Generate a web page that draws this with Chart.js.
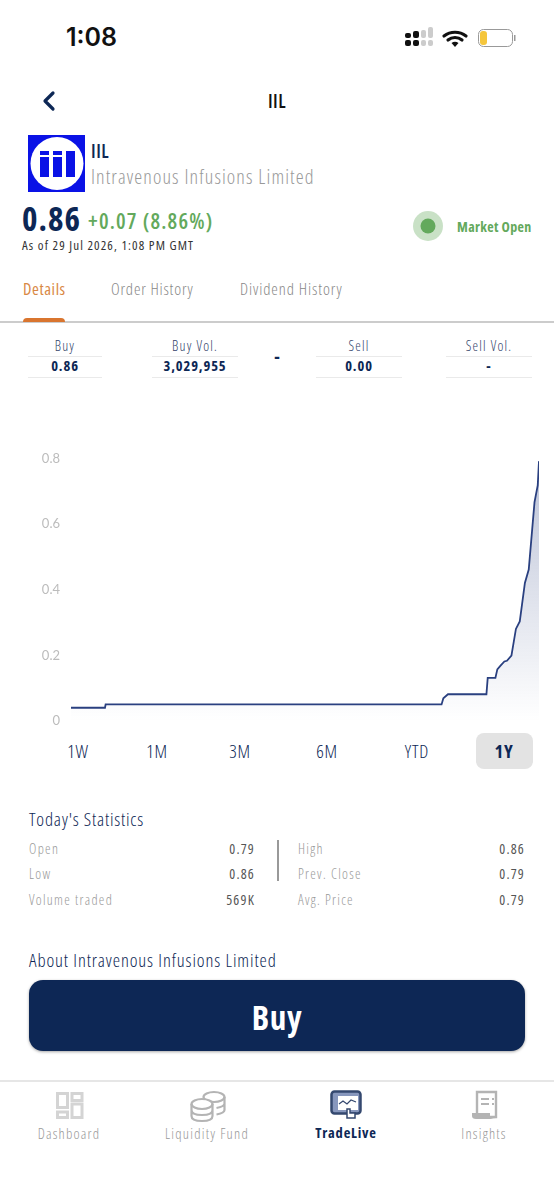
<!DOCTYPE html>
<html>
<head>
<meta charset="utf-8">
<title>IIL</title>
<script src="https://cdn.jsdelivr.net/npm/chart.js@4"></script>
<style>
  html, body { margin: 0; padding: 0; background: #fff; }
  body { width: 554px; height: 1199px; position: relative; overflow: hidden; font-family: "Open Sans", "Lato", sans-serif; font-stretch: 75%; color: #0d2755; }
  .t { position: absolute; white-space: nowrap; transform: translateY(-50%); line-height: 1; }
  .c { transform: translate(-50%, -50%); }
  .r { transform: translate(-100%, -50%); }
  .rule { position: absolute; height: 1px; background: #eaeaea; }
  svg { position: absolute; overflow: visible; }
  #chartBox { position: absolute; left: 0; top: 440px; width: 554px; height: 292px; }
  #pill { position: absolute; left: 476px; top: 733px; width: 57px; height: 36px; background: #e3e3e3; border-radius: 8px; }
  #buy { position: absolute; left: 29px; top: 980px; width: 496px; height: 71px; background: #0d2755; border-radius: 14px; box-shadow: 0 1px 3px rgba(0,0,0,.35); }
</style>
</head>
<body>

<div class="t" style="left:66px;top:37px;font:600 25px Inter;color:#111">1:08</div>
<svg style="left:405px;top:27px" width="115" height="22">
  <g fill="#111"><rect x="0" y="6" width="6" height="5" rx="2"/><rect x="0" y="13" width="6" height="6" rx="2"/><rect x="8" y="4" width="6" height="7" rx="2"/><rect x="8" y="13" width="6" height="6" rx="2"/></g>
  <g fill="#ccc"><rect x="16" y="3" width="5" height="8" rx="2"/><rect x="16" y="13" width="5" height="6" rx="2"/><rect x="23" y="0" width="5" height="11" rx="2"/><rect x="23" y="13" width="5" height="6" rx="2"/></g>
  <path d="M39 9 a18 18 0 0 1 22 0 M43 13 a11 11 0 0 1 14 0" fill="none" stroke="#111" stroke-width="3.2" stroke-linecap="round"/>
  <path d="M46.5 16 a6 6 0 0 1 7 0 L50 20z" fill="#111"/>
  <rect x="73.5" y="2.5" width="34" height="17" rx="5" fill="none" stroke="#999" stroke-width="1"/>
  <rect x="75" y="4" width="7" height="14" rx="3" fill="#f5c63c"/>
  <rect x="109" y="8" width="1.5" height="6" fill="#999"/>
</svg>

<svg style="left:42px;top:91px" width="13" height="20"><path d="M11 2 L3 10 L11 18" fill="none" stroke="#0d2755" stroke-width="3.2" stroke-linecap="round" stroke-linejoin="round"/></svg>
<div class="t c" style="left:277px;top:101px;font-size:19px;font-weight:600;letter-spacing:.5px;color:#111">IIL</div>

<svg style="left:28px;top:135px" width="57" height="57">
  <rect width="57" height="57" fill="#0a12e6"/>
  <circle cx="29" cy="28.5" r="26.5" fill="#fff"/>
  <g fill="#0a12e6"><rect x="12" y="22" width="9" height="20"/><rect x="12" y="16" width="9" height="4"/><rect x="25" y="22" width="9" height="20"/><rect x="25" y="16" width="9" height="4"/><rect x="38" y="16" width="9" height="26"/></g>
</svg>
<div class="t" style="left:91px;top:151px;font-size:19px;font-weight:600;letter-spacing:.5px">IIL</div>
<div class="t" style="left:91px;top:177px;font-size:20px;font-weight:300;letter-spacing:1.1px;color:#999">Intravenous Infusions Limited</div>

<div class="t" style="left:22px;top:218px;font-size:33px;font-weight:700;letter-spacing:1px">0.86</div>
<div class="t" style="left:88px;top:221px;font-size:21.5px;font-weight:600;letter-spacing:1.2px;color:#63a95c">+0.07 (8.86%)</div>
<div class="t" style="left:22px;top:245px;font-size:13px;letter-spacing:1.1px;color:#333">As of 29 Jul 2026, 1:08 PM GMT</div>

<svg style="left:413px;top:211px" width="30" height="30"><circle cx="15" cy="15" r="15" fill="#63a95c" opacity=".35"/><circle cx="15" cy="15" r="7.5" fill="#63a95c"/></svg>
<div class="t" style="left:457px;top:227px;font-size:14px;font-weight:700;letter-spacing:.35px;color:#63a95c">Market Open</div>

<div class="t" style="left:23px;top:289px;font-size:16.5px;letter-spacing:.6px;color:#d98845">Details</div>
<div class="t" style="left:111px;top:289px;font-size:16.5px;font-weight:300;letter-spacing:.8px;color:#888">Order History</div>
<div class="t" style="left:240px;top:289px;font-size:16.5px;font-weight:300;letter-spacing:.9px;color:#888">Dividend History</div>
<div style="position:absolute;left:0;top:321px;width:554px;height:1.5px;background:#ccc"></div>
<div style="position:absolute;left:23px;top:318px;width:42px;height:4px;background:#d9752f;border-radius:4px 4px 0 0"></div>

<div id="quotes"></div>
<div class="t c" style="left:277px;top:356px;font-size:18px;font-weight:700">-</div>

<div id="chartBox"><canvas id="myChart" width="554" height="292"></canvas></div>

<div id="pill"></div>
<div id="ranges"></div>

<div class="t" style="left:29px;top:819px;font-size:18.5px;font-weight:300;letter-spacing:.8px">Today's Statistics</div>
<div id="stats"></div>
<div style="position:absolute;left:277px;top:840px;width:1.5px;height:41px;background:#999"></div>

<div class="t" style="left:29px;top:960px;font-size:18.5px;font-weight:300;letter-spacing:.9px">About Intravenous Infusions Limited</div>
<div id="buy"></div>
<div class="t c" style="left:277px;top:1017px;font-size:33px;font-weight:700;letter-spacing:.6px;color:#fff">Buy</div>

<div style="position:absolute;left:0;top:1080px;width:554px;height:1.5px;background:#e6e6e6"></div>
<svg style="left:56px;top:1092px" width="27" height="27">
  <g fill="none" stroke="#d4d4d4" stroke-width="3"><rect x="1.5" y="1.5" width="10" height="14"/><rect x="16" y="1.5" width="10" height="7"/><rect x="1.5" y="20" width="10" height="5.5"/><rect x="16" y="12" width="10" height="13.5"/></g>
</svg>
<svg style="left:190px;top:1090px" width="36" height="32">
  <g fill="none" stroke="#b4b4b4" stroke-width="2.2">
    <ellipse cx="24" cy="7" rx="10.5" ry="5"/><path d="M34.5 7 V20 q0 3 -8 4.5 M34.5 13.5 q0 3 -8 4.5"/>
    <ellipse cx="12" cy="14" rx="10.5" ry="5" fill="#fff"/><path d="M1.5 14 V26 q0 5 10.5 5 t10.5 -5 V14 M1.5 20 q0 5 10.5 5 t10.5 -5"/>
  </g>
</svg>
<svg style="left:330px;top:1090px" width="32" height="29">
  <rect x="1.5" y="1.5" width="29" height="22" rx="3" fill="#8797bd" stroke="#34486f" stroke-width="2.5"/>
  <rect x="8" y="6" width="20" height="14" fill="#fff"/>
  <path d="M9 14 l4 -3 l4 3 l4 -4 l5 2" fill="none" stroke="#34486f" stroke-width="1.2"/>
  <path d="M17 28 v-9 h3 v4 h5 v5z" fill="#fff" stroke="#34486f" stroke-width="1.5"/>
</svg>
<svg style="left:471px;top:1091px" width="28" height="30">
  <path d="M6 1 h19 v25 h-19z" fill="none" stroke="#b4b4b4" stroke-width="2.4"/>
  <path d="M1 22 h18 v3 q0 3 6 3 h-20 q-4 0 -4 -3z" fill="#b4b4b4"/>
  <path d="M10 8 h8 M10 13 h8 M21 8 h2 M21 13 h2" stroke="#b4b4b4" stroke-width="2"/>
</svg>
<div id="tabs"></div>

<script>
// chart data (days since the start of the 1Y window)
var days = [0, 26.5, 27, 289, 290.4, 294, 324, 325, 331, 332.5, 335, 338, 340, 343.5, 347, 350, 354, 357, 361.5, 364, 365]
var prices = [0.041, 0.041, 0.051, 0.051, 0.07, 0.082, 0.082, 0.132, 0.132, 0.158, 0.169, 0.182, 0.184, 0.2, 0.281, 0.304, 0.421, 0.462, 0.667, 0.718, 0.792]

var rangeLabels = ["1W", "1M", "3M", "6M", "YTD", "1Y"]
var rangeX = [78, 157, 240, 327, 417, 504]

var quoteLabels = ["Buy", "Buy Vol.", "Sell", "Sell Vol."]
var quoteValues = ["0.86", "3,029,955", "0.00", "-"]
var quoteLeft = [28, 152, 316, 446]
var quoteWidth = [74, 86, 86, 86]

var statLeftLabels = ["Open", "Low", "Volume traded"]
var statLeftValues = ["0.79", "0.86", "569K"]
var statRightLabels = ["High", "Prev. Close", "Avg. Price"]
var statRightValues = ["0.86", "0.79", "0.79"]
var statY = [849, 874, 900]

var tabLabels = ["Dashboard", "Liquidity Fund", "TradeLive", "Insights"]
var tabX = [69, 207, 346, 484]

function addText(parent, text, cls, style) {
  var d = document.createElement("div")
  d.className = cls
  d.style.cssText = style
  d.textContent = text
  document.getElementById(parent).appendChild(d)
}

function addRule(parent, left, top, width) {
  var d = document.createElement("div")
  d.className = "rule"
  d.style.cssText = "left:" + left + "px;top:" + top + "px;width:" + width + "px"
  document.getElementById(parent).appendChild(d)
}

for (var i = 0; i < rangeLabels.length; i++) {
  addText("ranges", rangeLabels[i], "t c", "left:" + rangeX[i] + "px;top:751px;font-size:18.5px;letter-spacing:.8px;" + (i == 5 ? "font-weight:700" : "font-weight:300"))
}

for (var i = 0; i < quoteLabels.length; i++) {
  var mid = quoteLeft[i] + quoteWidth[i] / 2
  addText("quotes", quoteLabels[i], "t c", "left:" + mid + "px;top:346px;font-size:14px;letter-spacing:1.2px;font-weight:300;color:#33446a")
  addRule("quotes", quoteLeft[i], 356, quoteWidth[i])
  addText("quotes", quoteValues[i], "t c", "left:" + mid + "px;top:366px;font-size:14.5px;font-weight:700;letter-spacing:.9px")
  addRule("quotes", quoteLeft[i], 377, quoteWidth[i])
}

for (var i = 0; i < statY.length; i++) {
  addText("stats", statLeftLabels[i], "t", "left:29px;top:" + statY[i] + "px;font-size:14px;font-weight:300;letter-spacing:1.3px;color:#999")
  addText("stats", statLeftValues[i], "t r", "left:255px;top:" + statY[i] + "px;font-size:14px;letter-spacing:1.2px;color:#555")
  addText("stats", statRightLabels[i], "t", "left:298px;top:" + statY[i] + "px;font-size:14px;font-weight:300;letter-spacing:1.3px;color:#999")
  addText("stats", statRightValues[i], "t r", "left:525px;top:" + statY[i] + "px;font-size:14px;letter-spacing:1.2px;color:#555")
}

for (var i = 0; i < tabLabels.length; i++) {
  var on = tabLabels[i] == "TradeLive"
  addText("tabs", tabLabels[i], "t c", "left:" + tabX[i] + "px;top:" + (on ? 1133 : 1134) + "px;font-size:14.5px;" + (on ? "font-weight:700;letter-spacing:.8px" : "font-weight:300;letter-spacing:1.2px;color:#999"))
}

var points = days.map(function (d, i) { return { x: d, y: prices[i] } })

new Chart("myChart", {
  type: "line",
  data: {
    datasets: [{
      data: points,
      borderColor: "#2a4080",
      borderWidth: 1.8,
      pointRadius: 0,
      tension: 0,
      fill: "origin",
      backgroundColor: function (ctx) {
        var area = ctx.chart.chartArea
        if (!area) return "transparent"
        var g = ctx.chart.ctx.createLinearGradient(0, area.top, 0, area.bottom)
        g.addColorStop(0, "rgba(42,64,128,0.32)")
        g.addColorStop(1, "rgba(42,64,128,0)")
        return g
      }
    }]
  },
  options: {
    responsive: false,
    maintainAspectRatio: false,
    animation: false,
    layout: { padding: { top: 18.5, bottom: 6.5, right: 15, left: 0 } },
    plugins: { legend: { display: false }, tooltip: { enabled: false } },
    scales: {
      x: { type: "linear", min: 0, max: 365, display: false },
      y: {
        min: 0,
        max: 0.8,
        afterFit: function (axis) { axis.width = 71 },
        grid: { display: false },
        border: { display: false },
        ticks: {
          stepSize: 0.2,
          padding: 3,
          color: "#bcbcbc",
          font: { family: "Lato", size: 13 },
          callback: function (v) { return v == 0 ? "0" : v.toFixed(1) }
        }
      }
    }
  }
})
</script>
</body>
</html>
